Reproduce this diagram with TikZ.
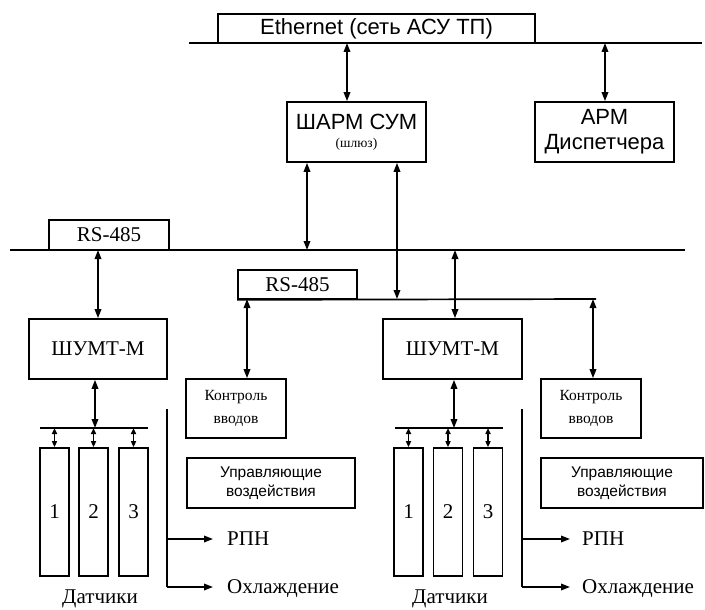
\documentclass[tikz,border=0pt]{standalone}
\usepackage{fontspec}
\setmainfont{Liberation Serif}
\setsansfont{Liberation Sans}
\usetikzlibrary{arrows.meta}
\begin{document}
\begin{tikzpicture}[x=1pt,y=-1pt,line width=1.7pt,
  box/.style={draw,inner sep=0pt,align=center},
  tip/.tip={Stealth[length=9pt,width=6.5pt,inset=0pt]},
  dar/.style={tip-tip},
  sar/.style={-tip},
  sdar/.style={{Stealth[length=6pt,width=5pt,inset=0pt]}-{Stealth[length=6pt,width=5pt,inset=0pt]}},
  bigsans/.style={font=\sffamily\fontsize{22}{25}\selectfont},
  midsans/.style={font=\sffamily\fontsize{15.5}{19}\selectfont},
  bigser/.style={font=\fontsize{21}{24}\selectfont},
  smser/.style={font=\fontsize{15.5}{20}\selectfont},
  sensor/.style={box,minimum width=29pt,minimum height=128pt,bigser}]
\useasboundingbox (0,0) rectangle (705,610);

% Ethernet bus
\node[box,minimum width=317pt,minimum height=29pt,bigsans] (ethbox) at (376.5,28.5) {Ethernet (сеть АСУ ТП)};
\coordinate (ethL) at (189,43);
\coordinate (ethR) at (702,43);
\draw (ethL) -- (ethR);

\node[box,minimum width=139pt,minimum height=60pt] (sharm) at (356.5,132)
  {{\sffamily\fontsize{22}{25}\selectfont ШАРМ СУМ}\\[6pt]{\fontsize{13.5}{16}\selectfont (шлюз)}};
\node[box,minimum width=139pt,minimum height=60pt,bigsans] (arm) at (604.5,132) {АРМ\\Диспетчера};

\coordinate (e1) at (347,43);
\coordinate (e2) at (605,43);
\draw[dar] (e1) -- (e1 |- sharm.north);
\draw[dar] (e2) -- (e2 |- arm.north);

% upper RS-485 bus
\node[box,minimum width=120pt,minimum height=30pt,bigser] (rs1) at (109,235) {RS-485};
\coordinate (r1L) at (10,250);
\coordinate (r1R) at (685,250);
\draw (r1L) -- (r1R);

% lower RS-485 bus
\node[box,minimum width=119pt,minimum height=29pt,bigser] (rs2) at (297.5,284.5) {RS-485};
\coordinate (r2R) at (596,299);
\draw (rs2.south west) -- (r2R);

% gateway links
\coordinate (g1) at (307,250);
\coordinate (g2) at (397,299);
\draw[dar] (g1 |- sharm.south) -- (g1);
\draw[dar] (g2 |- sharm.south) -- (g2);

% ШУМТ-М units
\node[box,minimum width=138pt,minimum height=60pt,bigser] (sh1) at (98,349) {ШУМТ-М};
\node[box,minimum width=139pt,minimum height=60pt,bigser] (sh2) at (452.5,349) {ШУМТ-М};
\coordinate (u1) at (98,250);
\coordinate (u2) at (455,250);
\draw[dar] (u1) -- (u1 |- sh1.north);
\draw[dar] (u2) -- (u2 |- sh2.north);

% Контроль вводов
\node[box,minimum width=100pt,minimum height=59pt,smser] (kv1) at (236,408.5) {Контроль\\[3pt]вводов};
\node[box,minimum width=100pt,minimum height=59pt,smser] (kv2) at (591,408.5) {Контроль\\[3pt]вводов};
\coordinate (k1) at (247,299);
\coordinate (k2) at (593,299);
\draw[dar] (k1) -- (k1 |- kv1.north);
\draw[dar] (k2) -- (k2 |- kv2.north);

% Управляющие воздействия
\node[box,minimum width=168pt,minimum height=50pt,midsans] (up1) at (271,483) {Управляющие\\воздействия};
\node[box,minimum width=162pt,minimum height=50pt,midsans] (up2) at (622,483) {Управляющие\\воздействия};

% sensors left
\coordinate (b1L) at (40,428);
\coordinate (b1R) at (148,428);
\draw (b1L) -- (b1R);
\coordinate (b1m) at (95,428);
\draw[dar] (b1m |- sh1.south) -- (b1m);
\node[sensor] (s11) at (54.5,512) {1};
\node[sensor] (s12) at (93.5,512) {2};
\node[sensor] (s13) at (133.5,512) {3};
\foreach \s in {s11,s12,s13} \draw[sdar] (\s.north |- b1L) -- (\s.north);
\node[bigser,anchor=base] (dat1) at (100,603) {Датчики};

% sensors right
\coordinate (b2L) at (395,428);
\coordinate (b2R) at (503,428);
\draw (b2L) -- (b2R);
\coordinate (b2m) at (454,428);
\draw[dar] (b2m |- sh2.south) -- (b2m);
\node[sensor] (s21) at (408.5,512) {1};
\node[sensor] (s22) at (448,512) {2};
\node[sensor] (s23) at (488,512) {3};
\foreach \s in {s21,s22,s23} \draw[sdar] (\s.north |- b2L) -- (\s.north);
\node[bigser,anchor=base] (dat2) at (450,603) {Датчики};

% outputs left
\node[bigser,anchor=west] (rpn1) at (223,539) {РПН};
\node[bigser,anchor=west] (ohl1) at (223,589) {Охлаждение};
\coordinate (v1t) at (167,409);
\coordinate (v1m) at (167,539);
\coordinate (v1b) at (167,587);
\draw (v1t) -- (v1b);
\draw[sar] (v1m) -- (213,539);
\draw[sar] (v1b) -- (213,587);

% outputs right
\node[bigser,anchor=west] (rpn2) at (578,539) {РПН};
\node[bigser,anchor=west] (ohl2) at (578,589) {Охлаждение};
\coordinate (v2t) at (522,409);
\coordinate (v2m) at (522,539);
\coordinate (v2b) at (522,587);
\draw (v2t) -- (v2b);
\draw[sar] (v2m) -- (570,539);
\draw[sar] (v2b) -- (570,587);
\end{tikzpicture}
\end{document}
